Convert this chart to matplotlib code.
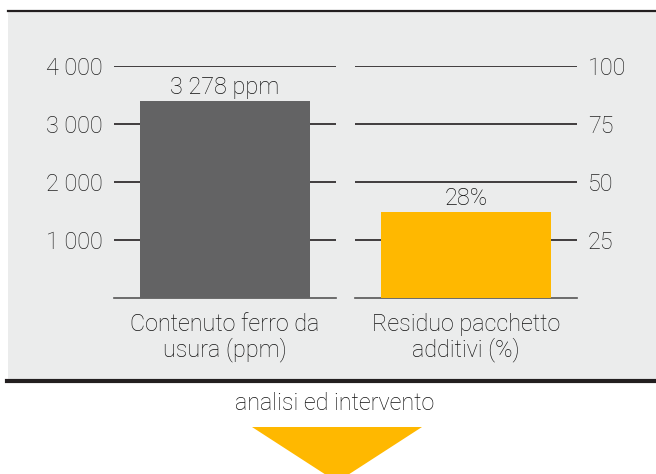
import matplotlib
matplotlib.use("Agg")
import matplotlib.pyplot as plt
from matplotlib.patches import Rectangle, Polygon
from matplotlib.lines import Line2D

# data
categories = ["Contenuto ferro da\nusura (ppm)", "Residuo pacchetto\nadditivi (%)"]
bar_heights = [3400, 37]          # as drawn on each scale
value_labels = ["3 278 ppm", "28%"]
left_ticks = [1000, 2000, 3000, 4000]
left_ticklabels = ["1 000", "2 000", "3 000", "4 000"]
right_ticks = [25, 50, 75, 100]
right_ticklabels = ["25", "50", "75", "100"]
bar_colors = ["#636364", "#ffb800"]
footer = "analisi ed intervento"

W, H = 656, 474
TXT = "#111111"
FS = 16.8
plt.rcParams['font.family'] = ['Roboto', 'DejaVu Sans']
plt.rcParams['font.weight'] = 'light'

fig = plt.figure(figsize=(W / 100, H / 100), dpi=100)
fig.patch.set_facecolor("white")


def px(x0, y0, x1, y1):
    # pixel box (from top-left) -> figure fraction rect
    return [x0 / W, 1 - y1 / H, (x1 - x0) / W, (y1 - y0) / H]


# grey panel + black rules
fig.patches.append(Rectangle((8 / W, 1 - 379 / H), 648 / W, 367 / H,
                             transform=fig.transFigure, facecolor="#ebecec",
                             edgecolor="none", zorder=-5))
fig.lines.append(Line2D([8 / W, 1], [1 - 11 / H] * 2, transform=fig.transFigure,
                        color="#231f20", lw=1.6))
fig.lines.append(Line2D([7 / W, 1], [1 - 381 / H] * 2, transform=fig.transFigure,
                        color="#231f20", lw=3.0))

axes = [fig.add_axes(px(114, 66, 336, 298)), fig.add_axes(px(355, 66, 577, 298))]
ylims = [4000, 100]
ticks = [left_ticks, right_ticks]
ticklabels = [left_ticklabels, right_ticklabels]

for i, ax in enumerate(axes):
    ax.set_facecolor("none")
    ax.bar([0], [bar_heights[i]], width=0.766, color=bar_colors[i], zorder=3)
    ax.set_xlim(-0.5, 0.5)
    ax.set_ylim(0, ylims[i])
    ax.set_yticks(ticks[i])
    ax.set_yticklabels(ticklabels[i])
    ax.yaxis.grid(True, color="#231f20", lw=1.2)
    ax.set_axisbelow(True)
    ax.set_xticks([])
    for s in ["top", "left", "right"]:
        ax.spines[s].set_visible(False)
    ax.spines["bottom"].set_color("#555555")
    ax.spines["bottom"].set_linewidth(1.2)
    ax.tick_params(axis="y", length=0, pad=8, labelsize=FS, labelcolor="#222222")
    ax.text(0, bar_heights[i] + ylims[i] * 0.008, value_labels[i], ha="center",
            va="bottom", fontsize=FS, color=TXT)
    ax.text(0, -ylims[i] * 0.065, categories[i], ha="center", va="top",
            multialignment="center", fontsize=FS, color=TXT, linespacing=1.05)

axes[1].yaxis.tick_right()
axes[1].tick_params(axis="y", length=0, pad=8)

fig.text(335 / W, 1 - 404 / H, footer, ha="center", va="center",
         fontsize=FS, color=TXT)
fig.patches.append(Polygon([(252 / W, 1 - 427 / H), (422 / W, 1 - 427 / H),
                            (337 / W, 1 - 482 / H)], closed=True,
                           transform=fig.transFigure, facecolor="#ffb800",
                           edgecolor="none"))

fig.savefig("out.png", dpi=100)
